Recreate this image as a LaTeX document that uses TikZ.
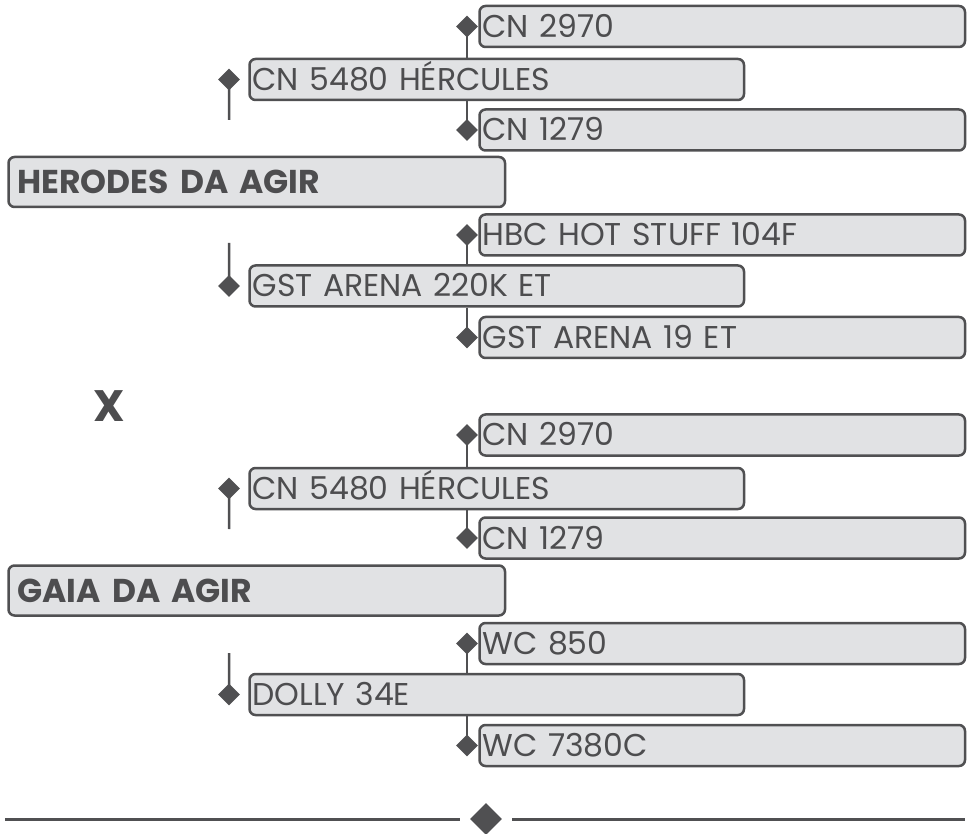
\documentclass[tikz,border=0pt]{standalone}
\usepackage{fontspec}
\setmainfont{Poppins}
\usepackage{xcolor}
\usetikzlibrary{shapes.geometric,positioning}
\definecolor{box-line}{HTML}{505052}
\definecolor{box-fill}{HTML}{E1E2E4}
\definecolor{box-text}{HTML}{4D4D4F}

\begin{document}
\begin{tikzpicture}[x=1pt, y=-1pt,
    every node/.style={font=\fontsize{31.5}{34}\selectfont, text=box-text},
    box/.style={draw=box-line, fill=box-fill, line width=2.5pt, rounded corners=6pt,
      minimum height=41pt, inner xsep=3pt, inner ysep=0pt, text height=22pt,
      text depth=0pt, anchor=west, align=left},
    longbox/.style={box, text width=479.5pt},
    midbox/.style={box, text width=488.5pt},
    headbox/.style={box, text width=478.5pt, inner xsep=9pt, minimum height=50pt,
      text height=23pt, font=\fontsize{33}{36}\selectfont\bfseries},
    dmd/.style={diamond, fill=box-line, minimum size=22pt, inner sep=0pt},
    link/.style={draw=box-line, line width=2.5pt}]
  \useasboundingbox (0,0) rectangle (970,834);

  \node[longbox] (a1) at (478.25, 26.5) {CN 2970};
  \node[midbox] (a0) at (248.25, 79.5) {CN 5480 HÉRCULES};
  \node[longbox] (a2) at (478.25, 130) {CN 1279};
  \node[headbox] (h1) at (7.25, 182) {HERODES DA AGIR};
  \node[longbox] (b1) at (478.25, 235) {HBC HOT STUFF 104F};
  \node[midbox] (b0) at (248.25, 286) {GST ARENA 220K ET};
  \node[longbox] (b2) at (478.25, 337.5) {GST ARENA 19 ET};

  \node[font=\fontsize{44}{46}\selectfont\bfseries] (vs) at (109, 406) {X};

  \node[longbox] (c1) at (478.25, 435) {CN 2970};
  \node[midbox] (c0) at (248.25, 488.5) {CN 5480 HÉRCULES};
  \node[longbox] (c2) at (478.25, 538) {CN 1279};
  \node[headbox] (h2) at (7.25, 590.5) {GAIA DA AGIR};
  \node[longbox] (d1) at (478.25, 643.5) {WC 850};
  \node[midbox] (d0) at (248.25, 694.5) {DOLLY 34E};
  \node[longbox] (d2) at (478.25, 745.5) {WC 7380C};

  \foreach \n in {a,b,c,d} {
    \node[dmd, left=0pt of \n1] (\n1d) {};
    \node[dmd, left=0pt of \n2] (\n2d) {};
    \node[dmd, left=8pt of \n0] (\n0d) {};
    \draw[link] (\n1d.center) -- (\n1d |- \n0.north);
    \draw[link] (\n2d |- \n0.south) -- (\n2d.center);
  }

  \coordinate (a0end) at (229, 120);
  \coordinate (b0end) at (229, 243);
  \coordinate (c0end) at (229, 529);
  \coordinate (d0end) at (229, 653);
  \draw[link] (a0d.center) -- (a0end);
  \draw[link] (b0end) -- (b0d.center);
  \draw[link] (c0d.center) -- (c0end);
  \draw[link] (d0end) -- (d0d.center);

  \node[dmd, minimum size=32pt] (mid) at (486, 819) {};
  \coordinate (rule-l) at (5, 819);
  \coordinate (rule-r) at (965, 819);
  \draw[link, line width=3pt] (rule-l) -- ([xshift=-10pt]mid.west);
  \draw[link, line width=3pt] ([xshift=10pt]mid.east) -- (rule-r);
\end{tikzpicture}
\end{document}
